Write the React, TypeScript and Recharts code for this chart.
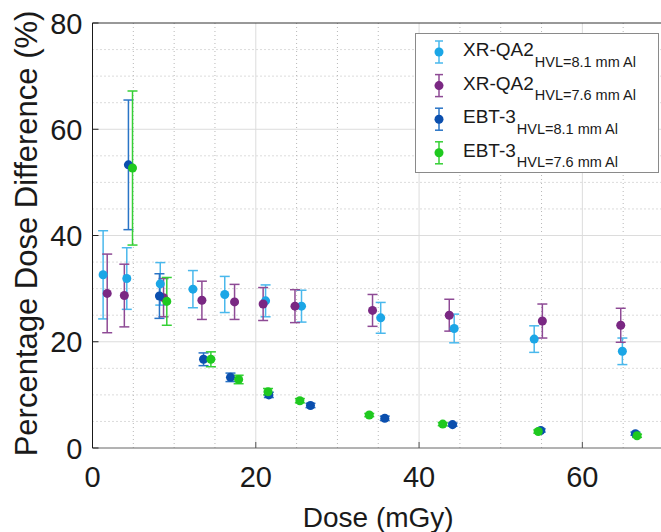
import React from 'react';
import { ScatterChart, Scatter, XAxis, YAxis, ErrorBar, ReferenceLine, Legend } from 'recharts';

// Dose (mGy), percentage dose difference (%) and its +/- error
const xr81Dose = [1.3, 4.2, 8.3, 12.3, 16.2, 21.2, 25.6, 35.3, 44.3, 54.1, 64.9];
const xr81Diff = [32.6, 31.9, 30.9, 29.9, 28.9, 27.7, 26.7, 24.5, 22.5, 20.5, 18.2];
const xr81Err = [8.3, 5.8, 4.0, 3.5, 3.4, 3.0, 3.0, 2.9, 2.7, 2.5, 2.5];

const xr76Dose = [1.8, 3.9, 8.7, 13.4, 17.4, 20.9, 24.8, 34.3, 43.7, 55.1, 64.7];
const xr76Diff = [29.1, 28.7, 28.3, 27.8, 27.5, 27.1, 26.7, 25.9, 25.0, 23.9, 23.1];
const xr76Err = [7.4, 5.9, 3.6, 3.6, 3.3, 3.1, 3.1, 3.0, 3.0, 3.2, 3.2];

const ebt81Dose = [4.4, 8.2, 13.6, 16.9, 21.6, 26.7, 35.8, 44.1, 54.9, 66.5];
const ebt81Diff = [53.3, 28.6, 16.7, 13.3, 10.0, 8.0, 5.6, 4.4, 3.3, 2.7];
const ebt81Err = [12.2, 4.2, 1.2, 0.8, 0.5, 0.4, 0.4, 0.3, 0.3, 0.3];

const ebt76Dose = [4.9, 9.1, 14.5, 17.9, 21.5, 25.4, 33.9, 42.9, 54.6, 66.7];
const ebt76Diff = [52.7, 27.6, 16.7, 12.9, 10.6, 8.9, 6.2, 4.5, 3.1, 2.3];
const ebt76Err = [14.5, 4.5, 1.4, 0.8, 0.6, 0.4, 0.3, 0.3, 0.3, 0.3];

const xTicks = [0, 20, 40, 60];
const yTicks = [0, 20, 40, 60, 80];
const xMinor = [5, 10, 15, 25, 30, 35, 45, 50, 55, 65];
const yMinor = [5, 10, 15, 25, 30, 35, 45, 50, 55, 65, 70, 75];

const FONT = '"Liberation Sans", Arial, Helvetica, sans-serif';

const toRows = (dose: number[], diff: number[], err: number[]) =>
  dose.map((d, i) => ({ dose: d, diff: diff[i], err: err[i] }));

const series = [
  { name: 'XR-QA2', sub: 'HVL=8.1 mm Al', data: toRows(xr81Dose, xr81Diff, xr81Err), dot: '#1ba6e6', bar: '#4ab8ec' },
  { name: 'XR-QA2', sub: 'HVL=7.6 mm Al', data: toRows(xr76Dose, xr76Diff, xr76Err), dot: '#7a2883', bar: '#8e4a95' },
  { name: 'EBT-3', sub: 'HVL=8.1 mm Al', data: toRows(ebt81Dose, ebt81Diff, ebt81Err), dot: '#0b4fae', bar: '#2a74c6' },
  { name: 'EBT-3', sub: 'HVL=7.6 mm Al', data: toRows(ebt76Dose, ebt76Diff, ebt76Err), dot: '#1fc91f', bar: '#35d035' },
];

const LeftTick = ({ x, y, payload }: any) => (
  <g>
    <line x1={x} y1={y} x2={x + 6} y2={y} stroke="#222" />
    <text x={x - 10} y={y + 10.5} textAnchor="end" fontSize={29} fontFamily={FONT} fill="#1a1a1a">
      {payload.value}
    </text>
  </g>
);

const BottomTick = ({ x, y, payload }: any) => (
  <g>
    {payload.value !== 0 && <line x1={x} y1={y} x2={x} y2={y - 6} stroke="#555" />}
    <text x={x} y={y + 38.5} textAnchor="middle" fontSize={29} fontFamily={FONT} fill="#1a1a1a">
      {payload.value}
    </text>
  </g>
);

const TopTick = ({ x, y }: any) => <line x1={x} y1={y} x2={x} y2={y + 6} stroke="#444" />;

const YLabel = ({ viewBox }: any) => {
  const cy = viewBox.y + viewBox.height / 2 - 2;
  return (
    <text
      x={37}
      y={cy}
      transform={`rotate(-90 37 ${cy})`}
      textAnchor="middle"
      fontSize={31}
      fontFamily={FONT}
      fill="#1a1a1a"
    >
      Percentage Dose Difference (%)
    </text>
  );
};

const XLabel = ({ viewBox }: any) => (
  <text
    x={viewBox.x + viewBox.width / 2}
    y={viewBox.y + 78.5}
    textAnchor="middle"
    fontSize={28}
    fontFamily={FONT}
    fill="#1a1a1a"
  >
    Dose (mGy)
  </text>
);

const LegendBox = () => (
  <svg width={244} height={140} style={{ display: 'block' }}>
    <rect x={0.5} y={0.5} width={243} height={139} fill="#fff" stroke="#8a8a8a" />
    {series.map((s, i) => {
      const cy = 19 + i * 33.6;
      return (
        <g key={i}>
          <line x1={24} y1={cy - 11} x2={24} y2={cy + 11} stroke={s.bar} strokeWidth={1.5} />
          <line x1={20} y1={cy - 11} x2={28} y2={cy - 11} stroke={s.bar} strokeWidth={1.5} />
          <line x1={20} y1={cy + 11} x2={28} y2={cy + 11} stroke={s.bar} strokeWidth={1.5} />
          <circle cx={24} cy={cy} r={4.5} fill={s.dot} />
          <text x={48} y={cy + 4} fontSize={19} fontFamily={FONT} fill="#1a1a1a">
            {s.name}
            <tspan fontSize={14.5} dy={10.5} dx={1}>
              {s.sub}
            </tspan>
          </text>
        </g>
      );
    })}
  </svg>
);

export default function App() {
  return (
    <div style={{ position: 'absolute', left: 0, top: 0 }}>
      <ScatterChart width={661} height={532} margin={{ top: 23, right: -3, bottom: 0, left: 0 }}>
        {xMinor.map((v) => (
          <ReferenceLine key={'xm' + v} x={v} stroke="#b8b8b8" strokeDasharray="1 3" />
        ))}
        {yMinor.map((v) => (
          <ReferenceLine key={'ym' + v} y={v} stroke="#b8b8b8" strokeDasharray="1 3" />
        ))}
        {[20, 40, 60].map((v) => (
          <ReferenceLine key={'xM' + v} x={v} stroke="#dcdcdc" />
        ))}
        {[20, 40, 60].map((v) => (
          <ReferenceLine key={'yM' + v} y={v} stroke="#dcdcdc" />
        ))}
        <ReferenceLine y={80} stroke="#333" />
        <XAxis
          type="number"
          dataKey="dose"
          domain={[0, 70]}
          ticks={xTicks}
          allowDataOverflow
          height={84}
          tickSize={0}
          tickMargin={0}
          tickLine={false}
          axisLine={{ stroke: '#666' }}
          tick={<BottomTick />}
          label={<XLabel />}
        />
        <XAxis
          xAxisId="top"
          orientation="top"
          type="number"
          domain={[0, 70]}
          ticks={[20, 40, 60]}
          height={0}
          tickSize={0}
          tickMargin={0}
          tickLine={false}
          axisLine={false}
          tick={<TopTick />}
        />
        <YAxis
          type="number"
          dataKey="diff"
          domain={[0, 80]}
          ticks={yTicks}
          allowDataOverflow
          width={92.5}
          tickSize={0}
          tickMargin={0}
          tickLine={false}
          axisLine={{ stroke: '#1a1a1a' }}
          tick={<LeftTick />}
          label={<YLabel />}
        />
        <Legend
          layout="horizontal"
          verticalAlign="middle"
          align="center"
          wrapperStyle={{ left: 415, top: 33, width: 244, height: 140 }}
          content={() => <LegendBox />}
        />
        {series.map((s, i) => (
          <Scatter
            key={i}
            name={s.name + ' ' + s.sub}
            data={s.data}
            fill={s.dot}
            shape="circle"
            isAnimationActive={false}
          >
            <ErrorBar dataKey="err" direction="y" width={5} stroke={s.bar} strokeWidth={1.5} />
          </Scatter>
        ))}
      </ScatterChart>
    </div>
  );
}
